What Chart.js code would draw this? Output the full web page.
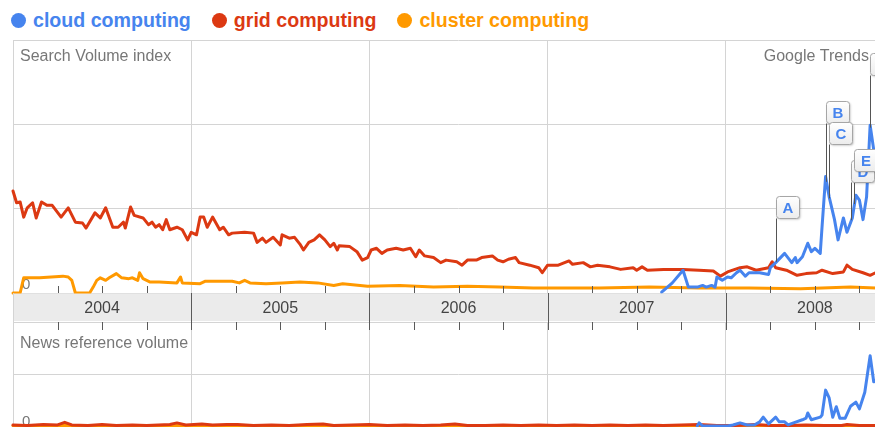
<!DOCTYPE html>
<html>
<head>
<meta charset="utf-8">
<title>cloud / grid / cluster computing</title>
<script src="https://cdn.jsdelivr.net/npm/chart.js@4.4.1/dist/chart.umd.min.js"></script>
<style>
  html, body { margin: 0; padding: 0; background: #fff; overflow: hidden; }
  #wrap {
    position: relative; width: 875px; height: 427px; overflow: hidden;
    font-family: Arial, "Liberation Sans", sans-serif;
  }
  #legend {
    position: absolute; left: 11px; top: 9px; white-space: nowrap;
    font-weight: bold; font-size: 19.6px; line-height: 22px;
  }
  #legend .item { display: inline-block; margin-right: 21px; }
  #legend .dot {
    display: inline-block; width: 15px; height: 15px; border-radius: 50%;
    vertical-align: -1px; margin-right: 7px;
  }
  #search { position: absolute; left: 0; top: 0; }
  #news { position: absolute; left: 0; top: 322px; }
</style>
</head>
<body>
<div id="wrap">
  <div id="legend"></div>
  <canvas id="search" width="910" height="322"></canvas>
  <canvas id="news" width="910" height="110"></canvas>
</div>
<script>
// ---- data -------------------------------------------------------------
const terms = ["cloud computing", "grid computing", "cluster computing"];
const termColors = ["#4684ee", "#dc3912", "#ff9900"];
const years = ["2004", "2005", "2006", "2007", "2008"];

// search volume, x = fractional year
const cloudDates = [2007.64, 2007.70, 2007.76, 2007.79, 2007.84, 2007.87, 2007.89, 2007.92, 2007.94, 2007.95,
  2007.98, 2008.01, 2008.03, 2008.06, 2008.08, 2008.11, 2008.13, 2008.19, 2008.24, 2008.25,
  2008.28, 2008.33, 2008.37, 2008.39, 2008.40, 2008.43, 2008.46, 2008.48, 2008.50, 2008.53,
  2008.54, 2008.56, 2008.58, 2008.61, 2008.63, 2008.66, 2008.68, 2008.71, 2008.73, 2008.75,
  2008.77, 2008.79, 2008.81, 2008.83, 2008.86, 2008.89];
const cloudSearch = [0.01, 0.12, 0.27, 0.07, 0.07, 0.09, 0.07, 0.09, 0.07, 0.19,
  0.15, 0.19, 0.18, 0.24, 0.27, 0.20, 0.24, 0.24, 0.22, 0.30,
  0.36, 0.47, 0.36, 0.42, 0.36, 0.43, 0.59, 0.49, 0.53, 0.47,
  0.78, 1.38, 1.14, 0.87, 0.63, 0.89, 0.72, 0.89, 1.16, 1.10,
  0.87, 1.14, 1.99, 1.70, 1.62, 2.05];

const gridDates = [2004.00, 2004.02, 2004.04, 2004.06, 2004.08, 2004.11, 2004.13, 2004.16, 2004.19, 2004.22,
  2004.27, 2004.31, 2004.35, 2004.39, 2004.41, 2004.46, 2004.49, 2004.52, 2004.56, 2004.59,
  2004.62, 2004.63, 2004.66, 2004.68, 2004.73, 2004.76, 2004.78, 2004.80, 2004.82, 2004.84,
  2004.86, 2004.88, 2004.92, 2004.95, 2004.98, 2005.00, 2005.03, 2005.05, 2005.07, 2005.09,
  2005.12, 2005.16, 2005.18, 2005.21, 2005.23, 2005.30, 2005.35, 2005.37, 2005.40, 2005.42,
  2005.46, 2005.50, 2005.51, 2005.55, 2005.58, 2005.61, 2005.63, 2005.66, 2005.69, 2005.72,
  2005.75, 2005.78, 2005.80, 2005.82, 2005.83, 2005.89, 2005.93, 2005.96, 2005.99, 2006.01,
  2006.04, 2006.07, 2006.10, 2006.15, 2006.19, 2006.23, 2006.26, 2006.28, 2006.31, 2006.36,
  2006.40, 2006.43, 2006.49, 2006.52, 2006.55, 2006.60, 2006.63, 2006.69, 2006.72, 2006.75,
  2006.78, 2006.82, 2006.84, 2006.90, 2006.95, 2006.97, 2007.00, 2007.06, 2007.12, 2007.14,
  2007.20, 2007.24, 2007.28, 2007.35, 2007.41, 2007.48, 2007.50, 2007.53, 2007.56, 2007.65,
  2007.76, 2007.85, 2007.93, 2007.97, 2008.01, 2008.08, 2008.12, 2008.17, 2008.24, 2008.26,
  2008.28, 2008.34, 2008.40, 2008.45, 2008.51, 2008.54, 2008.60, 2008.66, 2008.68, 2008.71,
  2008.77, 2008.81, 2008.84, 2008.88, 2008.92];
const gridSearch = [1.21, 1.07, 1.08, 0.90, 1.01, 1.07, 0.89, 1.08, 1.04, 1.04,
  0.90, 1.01, 0.84, 0.83, 0.77, 0.95, 0.89, 1.01, 0.78, 0.78,
  0.84, 0.77, 1.02, 0.92, 0.89, 0.81, 0.84, 0.78, 0.81, 0.75,
  0.87, 0.75, 0.78, 0.75, 0.63, 0.72, 0.69, 0.90, 0.90, 0.78,
  0.90, 0.75, 0.78, 0.69, 0.71, 0.72, 0.71, 0.60, 0.65, 0.60,
  0.66, 0.57, 0.69, 0.65, 0.66, 0.58, 0.51, 0.60, 0.63, 0.69,
  0.63, 0.55, 0.59, 0.51, 0.56, 0.55, 0.49, 0.39, 0.42, 0.51,
  0.53, 0.47, 0.51, 0.53, 0.51, 0.53, 0.43, 0.51, 0.44, 0.42,
  0.36, 0.39, 0.37, 0.33, 0.39, 0.39, 0.42, 0.44, 0.39, 0.37,
  0.40, 0.42, 0.36, 0.33, 0.30, 0.24, 0.33, 0.33, 0.38, 0.34,
  0.36, 0.31, 0.33, 0.31, 0.28, 0.30, 0.27, 0.31, 0.27, 0.28,
  0.28, 0.27, 0.26, 0.20, 0.25, 0.30, 0.31, 0.27, 0.30, 0.37,
  0.30, 0.27, 0.21, 0.23, 0.24, 0.27, 0.23, 0.25, 0.33, 0.28,
  0.24, 0.21, 0.24, 0.24, 0.22];

const clusterDates = [2004.00, 2004.04, 2004.06, 2004.08, 2004.15, 2004.28, 2004.31, 2004.33, 2004.35, 2004.43,
  2004.45, 2004.47, 2004.49, 2004.52, 2004.54, 2004.58, 2004.61, 2004.65, 2004.67, 2004.70,
  2004.71, 2004.73, 2004.77, 2004.82, 2004.92, 2004.94, 2004.95, 2005.05, 2005.08, 2005.23,
  2005.27, 2005.30, 2005.33, 2005.42, 2005.51, 2005.61, 2005.71, 2005.80, 2005.85, 2005.99,
  2006.17, 2006.36, 2006.55, 2006.73, 2006.92, 2007.11, 2007.29, 2007.57, 2007.85, 2008.13,
  2008.42, 2008.70, 2008.84, 2008.92];
const clusterSearch = [0, 0, 0.18, 0.18, 0.18, 0.20, 0.19, 0.15, 0, 0,
  0.07, 0.15, 0.18, 0.15, 0.18, 0.23, 0.18, 0.17, 0.18, 0.15,
  0.24, 0.17, 0.13, 0.13, 0.12, 0.19, 0.12, 0.11, 0.14, 0.14,
  0.12, 0.15, 0.12, 0.11, 0.12, 0.13, 0.12, 0.09, 0.11, 0.08,
  0.09, 0.07, 0.08, 0.07, 0.06, 0.06, 0.06, 0.07, 0.06, 0.06,
  0.05, 0.07, 0.06, 0.06];

// news reference volume
const cloudNewsDates = [2007.84, 2007.85, 2007.87, 2007.95, 2008.01, 2008.04, 2008.08, 2008.12, 2008.16, 2008.19,
  2008.21, 2008.24, 2008.28, 2008.30, 2008.33, 2008.35, 2008.38, 2008.43, 2008.45, 2008.46,
  2008.48, 2008.53, 2008.54, 2008.56, 2008.58, 2008.60, 2008.62, 2008.64, 2008.67, 2008.70,
  2008.73, 2008.75, 2008.78, 2008.81, 2008.83, 2008.86];
const cloudNews = [0, 0.06, 0, 0, 0, 0.02, 0.06, 0.02, 0.02, 0.08,
  0.17, 0.04, 0.17, 0.08, 0.08, 0.02, 0.06, 0.12, 0.15, 0.25,
  0.12, 0.17, 0.21, 0.69, 0.54, 0.17, 0.37, 0.15, 0.15, 0.38,
  0.46, 0.33, 0.65, 1.35, 0.85, 0.90];

const gridNewsDates = [2004.00, 2004.08, 2004.17, 2004.25, 2004.29, 2004.33, 2004.42, 2004.50, 2004.58, 2004.67,
  2004.75, 2004.88, 2004.92, 2004.97, 2005.06, 2005.12, 2005.20, 2005.26, 2005.35, 2005.45,
  2005.55, 2005.65, 2005.74, 2005.80, 2005.90, 2006.00, 2006.10, 2006.20, 2006.30, 2006.40,
  2006.48, 2006.55, 2006.65, 2006.75, 2006.85, 2006.95, 2007.05, 2007.15, 2007.25, 2007.35,
  2007.45, 2007.55, 2007.65, 2007.75, 2007.85, 2007.95, 2008.05, 2008.17, 2008.25, 2008.35,
  2008.45, 2008.55, 2008.65, 2008.68, 2008.75, 2008.85, 2008.92];
const gridNews = [0.02, 0.01, 0.03, 0.02, 0.07, 0.02, 0.01, 0.03, 0.01, 0.02,
  0.01, 0.03, 0.06, 0.02, 0.04, 0.02, 0.03, 0.03, 0.01, 0.02,
  0.01, 0.03, 0.04, 0.01, 0.02, 0.03, 0.01, 0.02, 0.01, 0.02,
  0.04, 0.01, 0.01, 0.02, 0.01, 0.02, 0.01, 0.02, 0.01, 0.02,
  0.01, 0.02, 0.01, 0.02, 0.03, 0.01, 0.01, 0.03, 0.01, 0.01,
  0.02, 0.01, 0.01, 0.03, 0.01, 0.01, 0.01];

const clusterNewsDates = [2004.00, 2005.00, 2006.00, 2007.00, 2008.00, 2008.92];
const clusterNews = [0.01, 0.01, 0.01, 0.01, 0.01, 0.01];

// news events flagged on the cloud computing line
const eventLetters = ["A", "B", "C", "D", "E", "F"];
const eventDates = [2008.28, 2008.56, 2008.58, 2008.70, 2008.72, 2008.81];
const eventLevels = [0.89, 2.02, 1.77, 1.32, 1.45, 2.59];

// ---- helpers ----------------------------------------------------------
const VIEW_WIDTH = 875;
const FONT = 'Arial, "Liberation Sans", sans-serif';
const GRID = "#d4d4d4";
const TICK = "#5a5a5a";

const points = (xs, ys) => xs.map((x, i) => ({ x: x, y: ys[i] }));

function lineDataset(label, color, xs, ys) {
  return {
    label: label,
    data: points(xs, ys),
    borderColor: color,
    backgroundColor: color,
    borderWidth: 3,
    borderJoinStyle: "round",
    borderCapStyle: "round",
    pointRadius: 0,
    tension: 0,
    clip: false,
  };
}

// html legend
const legendEl = document.getElementById("legend");
terms.forEach((t, i) => {
  const item = document.createElement("span");
  item.className = "item";
  item.style.color = termColors[i];
  item.innerHTML = '<span class="dot" style="background:' + termColors[i] + '"></span>' + t;
  legendEl.appendChild(item);
});

// captions + "0" inside the plot
const frameText = {
  id: "frameText",
  beforeDatasetsDraw(chart, args, opts) {
    const { ctx, chartArea: a } = chart;
    ctx.save();
    ctx.font = "16px " + FONT;
    ctx.fillStyle = "#777";
    ctx.textBaseline = "alphabetic";
    ctx.textAlign = "left";
    ctx.fillText(opts.title, a.left + 7, a.top + opts.titleBaseline);
    ctx.font = "15px " + FONT;
    ctx.fillText("0", a.left + 9, a.bottom - opts.zeroLift);
    if (opts.brand) {
      ctx.font = "16px " + FONT;
      ctx.textAlign = "right";
      ctx.fillText(opts.brand, VIEW_WIDTH - 6, a.top + 21);
    }
    ctx.restore();
  },
};

// grey year strip with quarter ticks under the search chart
const yearBand = {
  id: "yearBand",
  afterDraw(chart) {
    const { ctx, chartArea: a, scales: { x } } = chart;
    const bottom = chart.height;
    ctx.save();
    ctx.fillStyle = "#ebebeb";
    ctx.fillRect(a.left, a.bottom + 0.5, chart.width - a.left, bottom - a.bottom - 1.5);
    ctx.strokeStyle = GRID;
    ctx.lineWidth = 1;
    ctx.beginPath();
    ctx.moveTo(a.left + 0.5, a.bottom);
    ctx.lineTo(a.left + 0.5, bottom);
    ctx.stroke();

    ctx.strokeStyle = TICK;
    ctx.beginPath();
    for (let q = x.min * 4 + 1; q < x.max * 4; q++) {
      const px = Math.round(x.getPixelForValue(q / 4)) + 0.5;
      if (q % 4 === 0) {
        ctx.moveTo(px, a.bottom);
        ctx.lineTo(px, bottom);
      } else {
        ctx.moveTo(px, a.bottom - 7);
        ctx.lineTo(px, a.bottom);
      }
    }
    ctx.stroke();

    ctx.fillStyle = "#444";
    ctx.font = "16px " + FONT;
    ctx.textAlign = "center";
    ctx.textBaseline = "middle";
    years.forEach((yr) => {
      ctx.fillText(yr, x.getPixelForValue(Number(yr) + 0.5), (a.bottom + bottom) / 2 + 1);
    });
    ctx.restore();
  },
};

// ticks hanging from the top of the news chart
const topTicks = {
  id: "topTicks",
  afterDraw(chart) {
    const { ctx, chartArea: a, scales: { x } } = chart;
    ctx.save();
    ctx.strokeStyle = TICK;
    ctx.lineWidth = 1;
    ctx.beginPath();
    for (let q = x.min * 4 + 1; q < x.max * 4; q++) {
      const px = Math.round(x.getPixelForValue(q / 4)) + 0.5;
      ctx.moveTo(px, a.top);
      ctx.lineTo(px, a.top + 8);
    }
    ctx.stroke();
    ctx.restore();
  },
};

// y of the drawn line at pixel px
function lineYAt(els, px) {
  for (let i = 0; i < els.length - 1; i++) {
    const p = els[i], n = els[i + 1];
    if (px >= p.x && px <= n.x) {
      return p.y + (n.y - p.y) * ((px - p.x) / (n.x - p.x || 1));
    }
  }
  return els[els.length - 1].y;
}

function roundRect(ctx, x, y, w, h, r) {
  ctx.beginPath();
  ctx.moveTo(x + r, y);
  ctx.lineTo(x + w - r, y);
  ctx.quadraticCurveTo(x + w, y, x + w, y + r);
  ctx.lineTo(x + w, y + h - r);
  ctx.quadraticCurveTo(x + w, y + h, x + w - r, y + h);
  ctx.lineTo(x + r, y + h);
  ctx.quadraticCurveTo(x, y + h, x, y + h - r);
  ctx.lineTo(x, y + r);
  ctx.quadraticCurveTo(x, y, x + r, y);
  ctx.closePath();
}

// lettered flags pinned to the cloud computing line
const eventFlags = {
  id: "eventFlags",
  afterDatasetsDraw(chart) {
    const { ctx, scales: { x, y } } = chart;
    const els = chart.getDatasetMeta(0).data;
    const flags = eventLetters.map((letter, i) => {
      const px = Math.round(x.getPixelForValue(eventDates[i])) + 0.5;
      return {
        letter: letter,
        px: px,
        tip: lineYAt(els, px),
        base: Math.round(y.getPixelForValue(eventLevels[i])) + 0.5,
      };
    });
    ctx.save();
    ctx.strokeStyle = "#555";
    ctx.lineWidth = 1;
    ctx.beginPath();
    flags.forEach((f) => {
      ctx.moveTo(f.px, f.base);
      ctx.lineTo(f.px, f.tip);
    });
    ctx.stroke();

    const w = 23, h = 22;
    flags.forEach((f) => {
      const bx = f.px, by = f.base - h;
      ctx.save();
      ctx.shadowColor = "rgba(0,0,0,0.25)";
      ctx.shadowBlur = 2;
      ctx.shadowOffsetX = 1;
      ctx.shadowOffsetY = 1;
      const g = ctx.createLinearGradient(0, by, 0, by + h);
      g.addColorStop(0, "#ffffff");
      g.addColorStop(1, "#ececec");
      roundRect(ctx, bx, by, w, h, 3);
      ctx.fillStyle = g;
      ctx.fill();
      ctx.restore();
      roundRect(ctx, bx, by, w, h, 3);
      ctx.strokeStyle = "#a6a6a6";
      ctx.stroke();
      ctx.fillStyle = termColors[0];
      ctx.font = "bold 15px " + FONT;
      ctx.textAlign = "center";
      ctx.textBaseline = "middle";
      ctx.fillText(f.letter, bx + w / 2, by + h / 2 + 1);
    });
    ctx.restore();
  },
};

function axes(yMax) {
  return {
    x: {
      type: "linear",
      min: 2004,
      max: 2009,
      ticks: { display: false, stepSize: 1 },
      grid: { color: GRID, drawTicks: false, lineWidth: 1 },
      border: { display: false },
    },
    y: {
      min: 0,
      max: yMax,
      ticks: { display: false, stepSize: 1 },
      grid: { color: GRID, drawTicks: false, lineWidth: 1 },
      border: { display: false },
    },
  };
}

const baseOptions = {
  responsive: false,
  animation: false,
  events: [],
  plugins: { legend: { display: false }, tooltip: { enabled: false } },
};

new Chart(document.getElementById("search"), {
  type: "line",
  data: {
    datasets: [
      lineDataset(terms[0], termColors[0], cloudDates, cloudSearch),
      lineDataset(terms[1], termColors[1], gridDates, gridSearch),
      lineDataset(terms[2], termColors[2], clusterDates, clusterSearch),
    ],
  },
  options: Object.assign({}, baseOptions, {
    layout: { padding: { left: 13, top: 40, right: 6, bottom: 29 } },
    scales: axes(3),
    plugins: Object.assign({}, baseOptions.plugins, {
      frameText: { title: "Search Volume index", titleBaseline: 21, zeroLift: 4.5, brand: "Google Trends" },
    }),
  }),
  plugins: [frameText, yearBand, eventFlags],
});

new Chart(document.getElementById("news"), {
  type: "line",
  data: {
    datasets: [
      lineDataset(terms[0], termColors[0], cloudNewsDates, cloudNews),
      lineDataset(terms[1], termColors[1], gridNewsDates, gridNews),
      lineDataset(terms[2], termColors[2], clusterNewsDates, clusterNews),
    ],
  },
  options: Object.assign({}, baseOptions, {
    layout: { padding: { left: 13, top: 0, right: 6, bottom: 6 } },
    scales: axes(2),
    plugins: Object.assign({}, baseOptions.plugins, {
      frameText: { title: "News reference volume", titleBaseline: 26, zeroLift: 0 },
    }),
  }),
  plugins: [frameText, topTicks],
});
</script>
</body>
</html>
